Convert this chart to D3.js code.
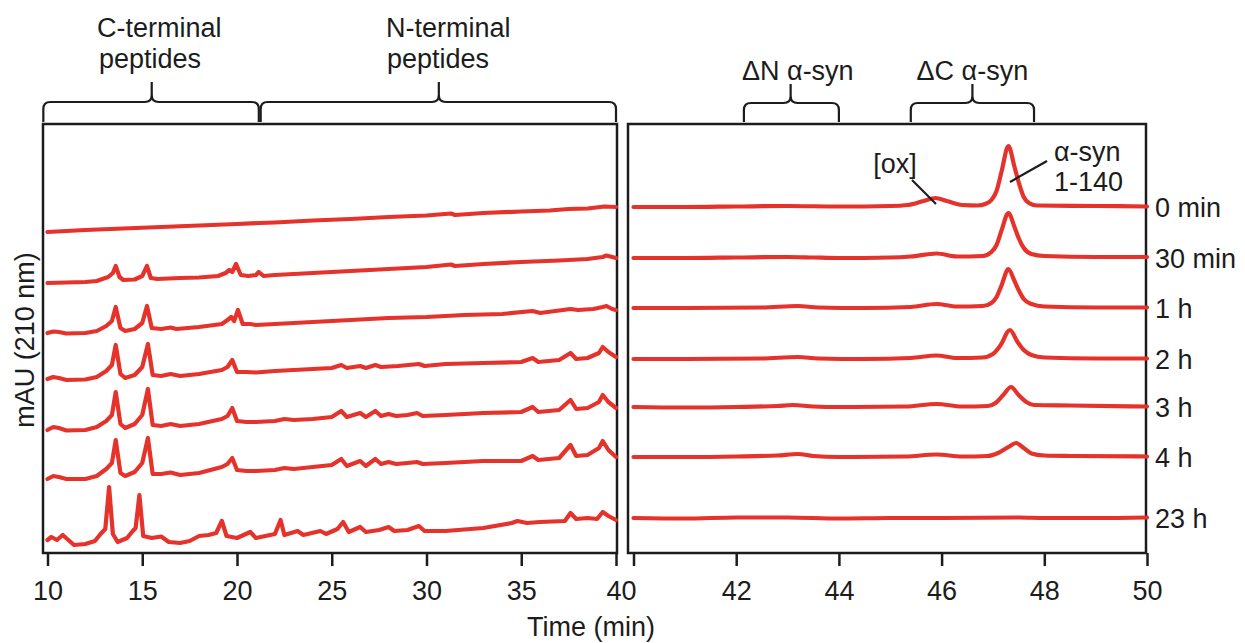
<!DOCTYPE html>
<html>
<head>
<meta charset="utf-8">
<script src="https://cdn.jsdelivr.net/npm/d3@7"></script>
<style>
  html, body { margin: 0; padding: 0; background: #fff; }
  svg { display: block; font-family: "Liberation Sans", Arial, sans-serif; }
</style>
</head>
<body>
<svg id="chart" width="1245" height="643"></svg>
<script>
// trace names, top to bottom
const traceLabels = ["0 min", "30 min", "1 h", "2 h", "3 h", "4 h", "23 h"];

// stacking offsets (mAU) for each trace
const leftOffsets = [321, 270, 220, 174, 123, 74, 13];
const rightOffsets = [346, 295, 245, 194, 146, 96, 35];

const leftTicks = [10, 15, 20, 25, 30, 35, 40];
const rightTicks = [40, 42, 44, 46, 48, 50];

// left panel, 10-40 min : [time, mAU]
const left0min = [[10,0],[12,2],[14,3.5],[16,5],[18,6.5],[20,8],[21.2,9],[22,9.5],[24,11.5],[26,13],[28,15],[30,16.5],[31.3,18.5],[31.5,17],[33,19],[35,20.5],[36.5,21.5],[37.5,23],[38.5,23.5],[39.4,25.5],[40,25]];
const left30min = [[10,0],[11,0.5],[12,1],[12.6,2],[13.2,6],[13.45,10],[13.6,17],[13.8,6],[14.0,3],[14.6,3.5],[15.0,7],[15.25,17],[15.45,5],[15.8,4],[17,5],[18,5.5],[19,7],[19.4,10],[19.6,13],[19.75,11],[19.95,19],[20.2,8],[20.6,7],[21.0,8],[21.15,11],[21.4,7],[22,8],[24,10],[26,12],[28,14],[30,16],[31.3,18.5],[31.5,17],[33,19],[35,21],[37,22.5],[38.5,24],[39.3,26],[39.5,27.5],[39.8,26],[40,25]];
const left1h = [[10,0],[10.3,1.5],[10.6,1],[11,-0.5],[12,0],[12.6,2],[13.1,7],[13.4,12],[13.6,26],[13.85,5],[14.1,2],[14.6,4],[15.0,10],[15.25,27],[15.5,5],[16,4],[16.5,5.5],[16.8,4],[18,6],[19.2,9],[19.5,13],[19.7,16],[19.85,12],[20.05,23],[20.3,9],[20.7,9],[21,8],[22,9],[24,11],[26,13],[28,15],[30,16],[32,18],[34,19],[35.6,22],[36,20],[37.6,24],[38,23],[38.8,24],[39.3,26],[39.5,27],[39.8,24],[40,23]];
const left2h = [[10,0],[10.3,2],[10.6,1],[11,-1],[12,-0.5],[12.6,2],[13.1,8],[13.4,14],[13.6,34],[13.85,5],[14.1,1],[14.6,4],[15.0,12],[15.3,35],[15.55,4],[16,3],[16.5,5],[17,3],[18,5],[19.2,9],[19.5,12],[19.75,19],[20.0,7],[20.5,7],[21,6.5],[22,8],[23,9],[24,10],[25,11],[25.5,14],[25.8,11],[26.5,13],[26.8,11],[27.3,14],[27.6,12],[28.5,13],[29.6,15],[29.9,13],[31,15],[33,16],[35,17],[35.6,21],[35.9,17],[37,19],[37.6,26],[37.9,20],[38.5,21],[39.1,26],[39.3,32],[39.6,27],[40,22]];
const left3h = [[10,0],[10.3,3],[10.6,2],[11,-0.5],[12,0],[12.6,3],[13.1,9],[13.4,15],[13.6,38],[13.85,6],[14.1,2],[14.6,6],[15.0,15],[15.3,41],[15.55,5],[16,4],[16.5,6],[17,4],[18,6],[19.2,11],[19.5,14],[19.75,22],[20.0,9],[20.5,8],[21,8],[22,9],[22.5,11],[23,10],[24,11],[25,13],[25.5,19],[25.8,13],[26.5,17],[26.8,13],[27.3,19],[27.6,14],[28,16],[28.4,14],[29,15],[29.5,17],[29.8,14],[31,15],[33,17],[35,18],[35.6,23],[35.9,18],[37,20],[37.6,30],[37.9,21],[38.5,22],[39.1,28],[39.3,35],[39.6,28],[40,22]];
const left4h = [[10,0],[10.3,3],[10.6,2],[11,0],[12,0],[12.6,3],[13.1,10],[13.4,16],[13.6,39],[13.85,6],[14.1,3],[14.6,7],[15.0,16],[15.3,41],[15.55,5],[16,5],[16.5,6.5],[17,4],[18,6],[19.2,12],[19.5,15],[19.75,21],[20.0,9],[20.5,8],[21,8],[22,9],[22.5,11],[23,10],[24,12],[25,14],[25.5,20],[25.8,13],[26.5,18],[26.8,13],[27.3,20],[27.6,15],[28,17],[28.4,15],[29,16],[29.5,17],[29.8,15],[31,16],[33,18],[35,18],[35.6,23],[35.9,19],[37,21],[37.6,34],[37.9,23],[38.5,24],[39.1,31],[39.3,38],[39.6,29],[40,22]];
const left23h = [[10,0],[10.2,3],[10.5,0],[10.8,5],[11.1,0],[11.4,-5],[12,-4],[12.5,-1],[12.8,6],[13.05,11],[13.25,53],[13.45,6],[13.7,-2],[14.2,2],[14.5,9],[14.65,12],[14.85,45],[15.05,4],[15.5,2],[16,3.5],[16.4,-2],[17,-3],[17.5,-1],[18,4],[18.5,5],[18.9,7],[19.2,19],[19.45,4],[20,2],[20.7,8],[21,2],[22,6],[22.3,20],[22.5,5],[23.2,9],[23.5,5],[24.4,9],[24.7,6],[25.3,11],[25.6,18],[25.9,8],[26.5,13],[26.8,8],[27.5,10],[28,13],[28.3,9],[29,10],[29.6,14],[29.9,9],[31,9],[33,12],[34.5,17],[34.8,19],[35.3,17],[36,18],[37.3,19],[37.6,27],[37.9,21],[38.5,22],[39.0,21],[39.3,28],[39.6,24],[40,20]];

// right panel, 40-50 min
const right0min = [[40,0],[41,0],[42,0.5],[43,1],[44,0.5],[45,1],[45.35,2],[45.65,6],[45.88,9],[46.1,6],[46.4,2],[46.7,1.5],[46.85,3],[46.97,7],[47.07,16],[47.17,36],[47.3,61],[47.42,40],[47.5,25],[47.6,10],[47.7,4],[47.85,1.5],[49,1],[50,0.5]];
const right30min = [[40,0],[41,0],[42,0.5],[43,1],[43.5,0.5],[44,0],[45,0.5],[45.4,1.5],[45.9,4.5],[46.3,1.5],[46.8,2],[46.97,6],[47.07,13],[47.17,28],[47.3,45],[47.42,31],[47.5,20],[47.6,10],[47.75,4],[48,2],[49,1],[50,1]];
const right1h = [[40,0],[41,0],[42.5,0.5],[43.2,2],[43.6,0.5],[44.5,0],[45.4,1],[45.9,4],[46.3,1.5],[46.8,2],[46.97,5],[47.07,11],[47.17,23],[47.3,39],[47.42,27],[47.5,18],[47.6,9],[47.75,4],[48,1.5],[49,0.5],[50,0.5]];
const right2h = [[40,0],[41,0],[42.5,0.5],[43.2,2],[43.6,0.5],[44.5,0],[45.4,1],[45.9,3.5],[46.3,1],[46.8,1.5],[47.0,5],[47.15,14],[47.33,29],[47.48,17],[47.6,9],[47.75,4],[48,1.5],[49,0.5],[50,0.5]];
const right3h = [[40,0],[41,-0.5],[42,0],[42.8,1],[43.1,2],[43.5,0.5],[44,0],[45.3,0.5],[45.9,3],[46.4,0.5],[46.9,1],[47.05,4],[47.2,12],[47.35,20],[47.5,12],[47.65,5],[47.8,2],[48.5,1.5],[50,0.5]];
const right4h = [[40,0],[41,0],[42,0.5],[42.8,1.5],[43.2,3],[43.5,1],[44,0],[45.3,0.5],[45.9,2.5],[46.4,0.5],[46.9,1],[47.1,4],[47.3,10],[47.45,14],[47.6,9],[47.75,3.5],[48,1.5],[48.5,1],[50,0.5]];
const right23h = [[40,0],[41,-0.5],[42,0.5],[43,0.5],[44,-0.5],[45,0],[46,0],[47.5,0.5],[48,0],[49,0],[50,0.5]];

const leftSeries = [left0min, left30min, left1h, left2h, left3h, left4h, left23h];
const rightSeries = [right0min, right30min, right1h, right2h, right3h, right4h, right23h];

// brackets above the panels: [start, end, centre] in min
const leftBrackets = [[9.78, 21.15, 15.5], [21.25, 40, 30.65]];
const rightBrackets = [[42.15, 44.0, 43.06], [45.4, 47.8, 46.6]];

const svg = d3.select("#chart");
const red = "#e5322b";
const ink = "#1c1c1c";

const plotTop = 124, plotBottom = 553;
const xL = d3.scaleLinear().domain([10, 40]).range([47.5, 616]);
const xR = d3.scaleLinear().domain([40, 50]).range([633.5, 1147]);
const y = d3.scaleLinear().domain([0, plotBottom - plotTop]).range([plotBottom, plotTop]);

// frames
svg.append("rect").attr("x", 43).attr("y", plotTop).attr("width", 617 - 43).attr("height", plotBottom - plotTop)
  .attr("fill", "none").attr("stroke", ink).attr("stroke-width", 2.5);
svg.append("rect").attr("x", 628).attr("y", plotTop).attr("width", 1146 - 628).attr("height", plotBottom - plotTop)
  .attr("fill", "none").attr("stroke", ink).attr("stroke-width", 2.5);

// axes
function styleAxis(g) {
  g.select(".domain").remove();
  g.selectAll(".tick line").attr("stroke", ink).attr("stroke-width", 2.5);
  g.selectAll(".tick text").attr("fill", ink).attr("font-size", 27)
    .attr("font-family", "Liberation Sans, Arial, sans-serif").attr("dy", "0.95em");
}
svg.append("g").attr("transform", `translate(0,${plotBottom})`)
  .call(d3.axisBottom(xL).tickValues(leftTicks).tickSize(13).tickPadding(8))
  .call(styleAxis)
  .selectAll(".tick text").attr("dx", d => d === 40 ? 5 : 0);
// the shared "40" label is drawn only once, under the left panel
svg.append("g").attr("transform", `translate(0,${plotBottom})`)
  .call(d3.axisBottom(xR).tickValues(rightTicks).tickSize(13).tickPadding(8)
    .tickFormat(d => d === 40 ? "" : d))
  .call(styleAxis);

svg.append("text").attr("x", 591).attr("y", 636).attr("text-anchor", "middle")
  .attr("font-size", 27).attr("fill", ink).text("Time (min)");
svg.append("text").attr("transform", "translate(34,340) rotate(-90)").attr("text-anchor", "middle")
  .attr("font-size", 27).attr("fill", ink).text("mAU (210 nm)");

// traces
const lineL = d3.line().x(d => xL(d[0])).y(d => y(d[1]));
const lineR = d3.line().curve(d3.curveMonotoneX).x(d => xR(d[0])).y(d => y(d[1]));

svg.append("g").selectAll("path")
  .data(leftSeries)
  .join("path")
  .attr("d", (s, i) => lineL(s.map(p => [p[0], p[1] + leftOffsets[i]])))
  .attr("fill", "none").attr("stroke", red).attr("stroke-width", 4.2)
  .attr("stroke-linejoin", "round").attr("stroke-linecap", "round");

svg.append("g").selectAll("path")
  .data(rightSeries)
  .join("path")
  .attr("d", (s, i) => lineR(s.map(p => [p[0], p[1] + rightOffsets[i]])))
  .attr("fill", "none").attr("stroke", red).attr("stroke-width", 4.2)
  .attr("stroke-linejoin", "round").attr("stroke-linecap", "round");

// trace labels at right
svg.append("g").selectAll("text")
  .data(traceLabels)
  .join("text")
  .attr("x", 1155)
  .attr("y", (d, i) => y(rightOffsets[i]) + 10)
  .attr("font-size", 27).attr("fill", ink)
  .text(d => d);

// curly brackets
function bracket(x0, x1, xc, yTop, yEnd, yStem) {
  const r = 7;
  return `M${x0},${yEnd} L${x0},${yTop + r} Q${x0},${yTop} ${x0 + r},${yTop} L${xc - r},${yTop} Q${xc},${yTop} ${xc},${yTop - r} L${xc},${yStem}` +
    ` M${xc},${yTop - r} Q${xc},${yTop} ${xc + r},${yTop} L${x1 - r},${yTop} Q${x1},${yTop} ${x1},${yTop + r} L${x1},${yEnd}`;
}
const gb = svg.append("g").attr("fill", "none").attr("stroke", ink).attr("stroke-width", 2.2);
leftBrackets.forEach(b => gb.append("path").attr("d", bracket(xL(b[0]), xL(b[1]), xL(b[2]), 102, 122, 82)));
rightBrackets.forEach(b => gb.append("path").attr("d", bracket(xR(b[0]), xR(b[1]), xR(b[2]), 103, 122, 84)));

// bracket titles
const titles = [
  { x: 97, y: 37, t: "C-terminal", a: "start" }, { x: 99, y: 68, t: "peptides", a: "start" },
  { x: 386, y: 37, t: "N-terminal", a: "start" }, { x: 387, y: 68, t: "peptides", a: "start" },
  { x: xR(43.2), y: 80, t: "\u0394N \u03b1-syn", a: "middle" },
  { x: xR(46.6), y: 80, t: "\u0394C \u03b1-syn", a: "middle" }
];
svg.append("g").selectAll("text")
  .data(titles)
  .join("text")
  .attr("x", d => d.x).attr("y", d => d.y).attr("text-anchor", d => d.a)
  .attr("font-size", 27).attr("fill", ink)
  .text(d => d.t);

// peak annotations
svg.append("text").attr("x", 895).attr("y", 173).attr("text-anchor", "middle")
  .attr("font-size", 27).attr("fill", ink).text("[ox]");
svg.append("line").attr("x1", 912).attr("y1", 180).attr("x2", 936).attr("y2", 204)
  .attr("stroke", ink).attr("stroke-width", 2.2);
svg.append("text").attr("x", 1054).attr("y", 161).attr("font-size", 27).attr("fill", ink).text("\u03b1-syn");
svg.append("text").attr("x", 1054).attr("y", 191).attr("font-size", 27).attr("fill", ink).text("1-140");
svg.append("line").attr("x1", 1010).attr("y1", 182).attr("x2", 1047).attr("y2", 161)
  .attr("stroke", ink).attr("stroke-width", 2.2);
</script>
</body>
</html>
